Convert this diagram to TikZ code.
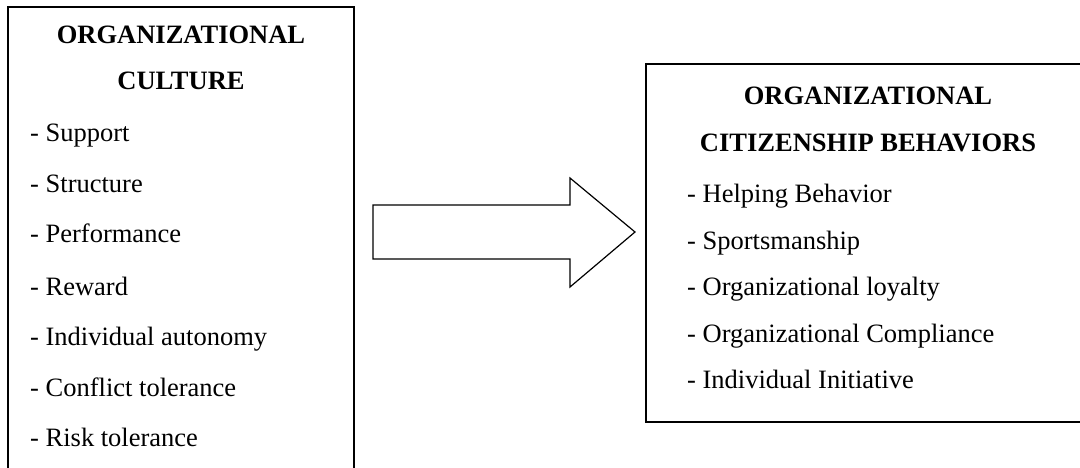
\documentclass[tikz,border=0pt]{standalone}
\usepackage{fontspec}
\setmainfont{Liberation Serif}
\begin{document}
\begin{tikzpicture}[x=1pt,y=-1pt,
  box/.style={draw=black,line width=1.6pt,fill=none,inner sep=0pt},
  head/.style={anchor=base,inner sep=0pt,font=\fontsize{26.5}{30}\selectfont\bfseries},
  item/.style={anchor=base west,inner sep=0pt,font=\fontsize{26.5}{30}\selectfont},
  blockarrow/.style={draw=black,line width=1.2pt,line join=miter,fill=white}]
\clip (0,0) rectangle (1080,468);
\fill[white] (0,0) rectangle (1080,468);
% left box
\node[box,minimum width=346pt,minimum height=473pt] (culture) at (181,243.5) {};
\node[head] (c1) at (181,43.3) {ORGANIZATIONAL};
\node[head] (c2) at (181,89.3) {CULTURE};
\node[item] (c3) at (30,141.7) {- Support};
\node[item] (c4) at (30,192.7) {- Structure};
\node[item] (c5) at (30,242.7) {- Performance};
\node[item] (c6) at (30,295) {- Reward};
\node[item] (c7) at (30,345) {- Individual autonomy};
\node[item] (c8) at (30,396.7) {- Conflict tolerance};
\node[item] (c9) at (30,446.7) {- Risk tolerance};
% right box
\node[box,minimum width=444pt,minimum height=358pt] (ocb) at (868,243) {};
\node[head] (o1) at (868,105) {ORGANIZATIONAL};
\node[head] (o2) at (868,152) {CITIZENSHIP BEHAVIORS};
\node[item] (o3) at (687,203) {- Helping Behavior};
\node[item] (o4) at (687,249) {- Sportsmanship};
\node[item] (o5) at (687,295.5) {- Organizational loyalty};
\node[item] (o6) at (687,342) {- Organizational Compliance};
\node[item] (o7) at (687,388) {- Individual Initiative};
% block arrow
\coordinate (a1) at (373,205);
\coordinate (a2) at (570,205);
\coordinate (a3) at (570,178);
\coordinate (tip) at (635,232);
\coordinate (a5) at (570,287);
\coordinate (a6) at (570,259);
\coordinate (a7) at (373,259);
\draw[blockarrow] (a1) -- (a2) -- (a3) -- (tip) -- (a5) -- (a6) -- (a7) -- cycle;
\end{tikzpicture}
\end{document}
